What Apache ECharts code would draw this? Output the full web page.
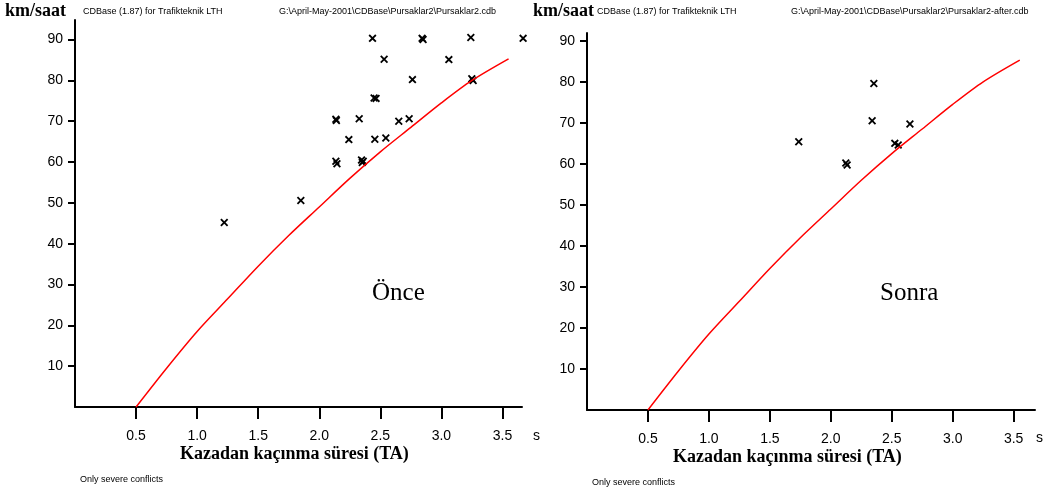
<!DOCTYPE html>
<html>
<head>
<meta charset="utf-8">
<script src="https://cdn.jsdelivr.net/npm/echarts@6/dist/echarts.min.js"></script>
<style>
  html, body { margin: 0; padding: 0; background: #fff; }
  #chart { width: 1049px; height: 493px; }
</style>
</head>
<body>
<div id="chart"></div>
<script>
// tick values
const xTicks = [0.5, 1.0, 1.5, 2.0, 2.5, 3.0, 3.5];
const yTicks = [10, 20, 30, 40, 50, 60, 70, 80, 90];

// severe conflict boundary
const curveTA = [0.5, 0.75, 1.0, 1.25, 1.5, 1.75, 2.0, 2.25, 2.5, 2.75, 3.0, 3.25, 3.55];
const curveSpeed = [0, 9.5, 18.5, 26.5, 34.5, 42, 49, 56, 62.5, 68.5, 74.5, 80, 85.3];

// Önce (before)
const onceTA = [2.436, 2.842, 2.85, 3.241, 3.669, 2.531, 3.061, 2.763, 3.249, 3.26, 2.449, 2.465,
  2.136, 2.14, 2.327, 2.651, 2.736, 2.242, 2.455, 2.545, 2.136, 2.145, 2.346, 2.36, 2.352, 1.222, 1.849];
const onceSpeed = [90.3, 90.3, 90.0, 90.5, 90.3, 85.2, 85.1, 80.2, 80.4, 80.0, 75.7, 75.6,
  70.5, 70.2, 70.6, 70.0, 70.6, 65.5, 65.6, 65.9, 60.2, 59.6, 60.5, 60.2, 59.9, 45.2, 50.6];

// Sonra (after)
const sonraTA = [2.353, 2.339, 2.649, 1.737, 2.525, 2.553, 2.123, 2.134];
const sonraSpeed = [79.6, 70.5, 69.7, 65.4, 65.0, 64.6, 60.2, 59.7];

const zip = (a, b) => a.map((v, i) => [v, b[i]]);

const crossPath = 'path://M0,1.6L1.6,0L5,3.4L8.4,0L10,1.6L6.6,5L10,8.4L8.4,10L5,6.6L1.6,10L0,8.4L3.4,5Z';
const serif = '"Liberation Serif", "DejaVu Serif", serif';
const sans = '"Liberation Sans", Arial, sans-serif';

function xAxisFor(gridIndex, max) {
  return {
    type: 'value', gridIndex: gridIndex, min: 0, max: max,
    splitLine: { show: false },
    axisLine: { show: true, onZero: false, lineStyle: { color: '#000', width: 2 } },
    axisTick: { show: true, customValues: xTicks, length: 12, lineStyle: { color: '#000', width: 2 } },
    axisLabel: {
      customValues: xTicks, margin: 22, color: '#000', fontSize: 14, fontFamily: sans,
      formatter: v => v.toFixed(1)
    }
  };
}
function yAxisFor(gridIndex, max) {
  return {
    type: 'value', gridIndex: gridIndex, min: 0, max: max,
    splitLine: { show: false },
    axisLine: { show: true, onZero: false, lineStyle: { color: '#000', width: 2 } },
    axisTick: { show: true, customValues: yTicks, length: 7, lineStyle: { color: '#000', width: 2 } },
    axisLabel: { customValues: yTicks, margin: 12, color: '#000', fontSize: 14, fontFamily: sans }
  };
}

function txt(left, top, text, size, font, weight) {
  return {
    type: 'text', left: left, top: top,
    style: { text: text, fill: '#000', font: (weight || 'normal') + ' ' + size + 'px ' + font }
  };
}

let chart = echarts.init(document.getElementById('chart'));
let options = {
  animation: false,
  backgroundColor: '#fff',
  grid: [
    { left: 75, top: 20, width: 447, bottom: 86 },
    { left: 587, top: 33, width: 448, bottom: 83 }
  ],
  xAxis: [xAxisFor(0, 3.66), xAxisFor(1, 3.675)],
  yAxis: [yAxisFor(0, 94.8), yAxisFor(1, 91.9)],
  series: [
    {
      name: 'sinir', type: 'line', xAxisIndex: 0, yAxisIndex: 0,
      data: zip(curveTA, curveSpeed), smooth: 0.3, showSymbol: false,
      lineStyle: { color: '#ff0000', width: 1.5 }
    },
    {
      name: 'Önce', type: 'scatter', xAxisIndex: 0, yAxisIndex: 0, clip: false,
      data: zip(onceTA, onceSpeed), symbol: crossPath, symbolSize: 8,
      itemStyle: { color: '#000', opacity: 1 }
    },
    {
      name: 'sinir2', type: 'line', xAxisIndex: 1, yAxisIndex: 1,
      data: zip(curveTA, curveSpeed), smooth: 0.3, showSymbol: false,
      lineStyle: { color: '#ff0000', width: 1.5 }
    },
    {
      name: 'Sonra', type: 'scatter', xAxisIndex: 1, yAxisIndex: 1, clip: false,
      data: zip(sonraTA, sonraSpeed), symbol: crossPath, symbolSize: 8,
      itemStyle: { color: '#000', opacity: 1 }
    }
  ],
  graphic: [
    txt(5, 2, 'km/saat', 18, serif, 'bold'),
    txt(83, 7, 'CDBase (1.87) for Trafikteknik LTH', 9, sans),
    txt(279, 7, 'G:\\April-May-2001\\CDBase\\Pursaklar2\\Pursaklar2.cdb', 9, sans),
    txt(533, 2, 'km/saat', 18, serif, 'bold'),
    txt(597, 7, 'CDBase (1.87) for Trafikteknik LTH', 9, sans),
    txt(791, 7, 'G:\\April-May-2001\\CDBase\\Pursaklar2\\Pursaklar2-after.cdb', 9, sans),
    txt(372, 281, 'Önce', 25, serif),
    txt(880, 281, 'Sonra', 25, serif),
    txt(533, 429, 's', 14, sans),
    txt(1036, 431, 's', 14, sans),
    txt(180, 445, 'Kazadan kaçınma süresi (TA)', 18, serif, 'bold'),
    txt(673, 448, 'Kazadan kaçınma süresi (TA)', 18, serif, 'bold'),
    txt(80, 475, 'Only severe conflicts', 9, sans),
    txt(592, 478, 'Only severe conflicts', 9, sans)
  ]
};
chart.setOption(options);
</script>
</body>
</html>
